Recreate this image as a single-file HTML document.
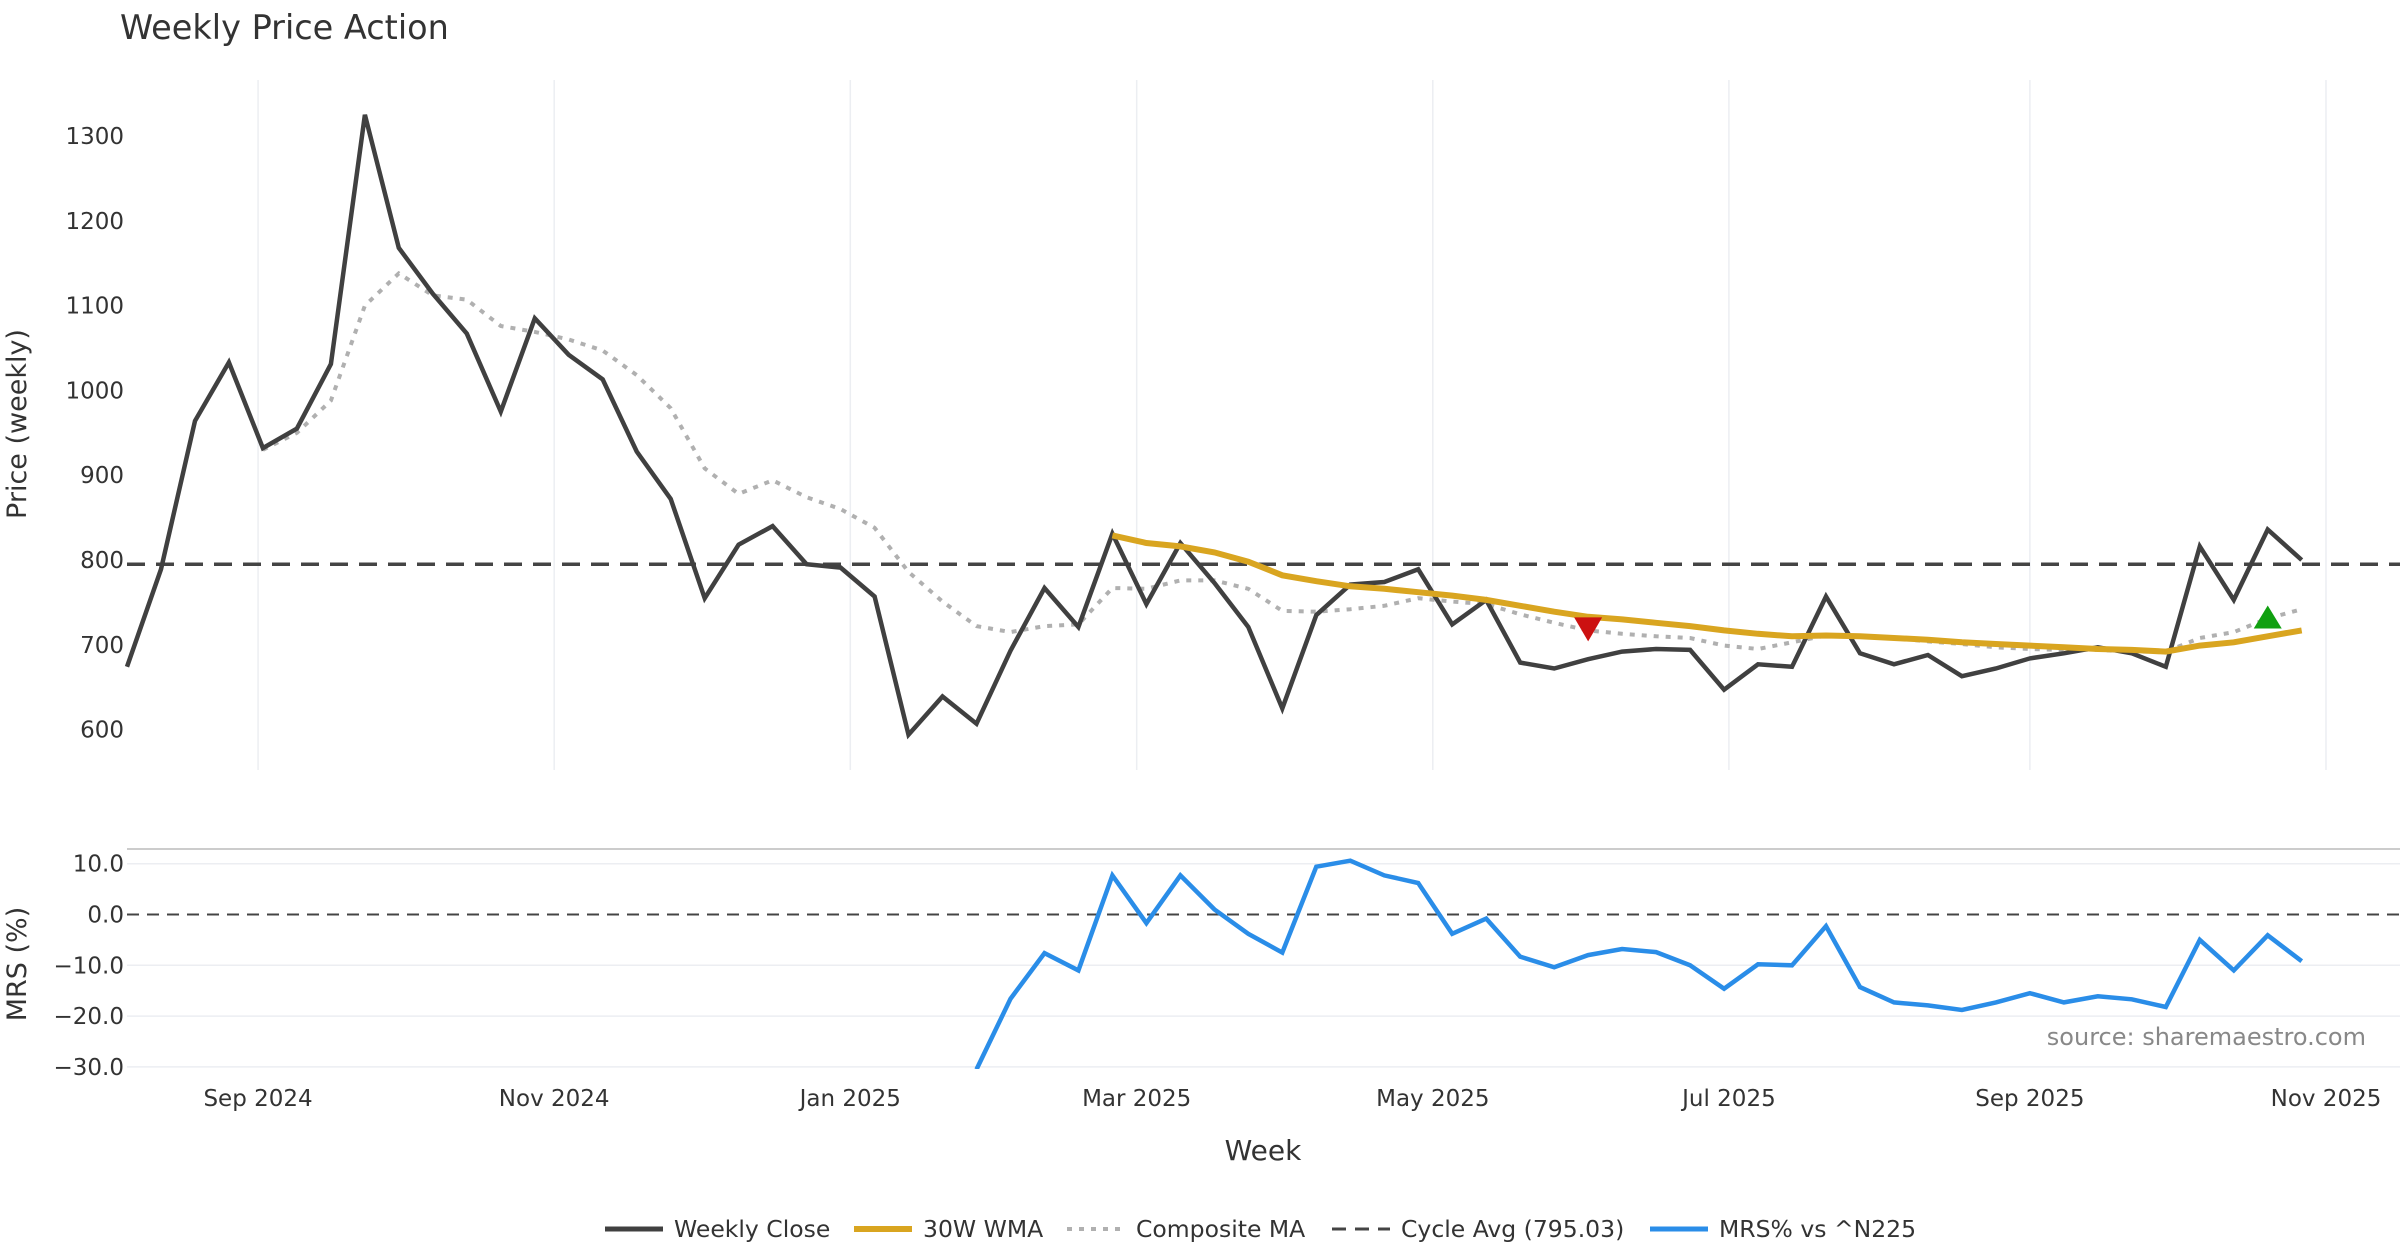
<!DOCTYPE html>
<html><head><meta charset="utf-8"><style>
html,body{margin:0;padding:0;background:#fff;}
svg{display:block;font-family:"DejaVu Sans","Liberation Sans",sans-serif;}
</style></head><body>
<svg id="chart" width="2400" height="1260" viewBox="0 0 2400 1260" xmlns="http://www.w3.org/2000/svg">
<defs><clipPath id="mrsClip"><rect x="127" y="849" width="2273" height="220"/></clipPath></defs>
<text x="120" y="39" font-size="33.5" fill="#333">Weekly Price Action</text>
<g id="grid"></g>
<g id="series"></g>
<g id="axes"></g>
<text transform="translate(26,424) rotate(-90)" text-anchor="middle" font-size="27" fill="#333">Price (weekly)</text>
<text transform="translate(26,964) rotate(-90)" text-anchor="middle" font-size="27" fill="#333">MRS (%)</text>
<text x="1263" y="1160" text-anchor="middle" font-size="28" fill="#333">Week</text>
<text x="2366" y="1045" text-anchor="end" font-size="24" fill="#888">source: sharemaestro.com</text>
<g id="legend"></g>
</svg>
<script>
const closes=[674,789,964,1033,932,955,1031,1325,1168,1114,1067,975,1085,1042,1013,928,872,755,818,840,795,791,757,594,639,607,693,767,721,831,748,820,773,721,625,735,771,774,789,724,753,679,672,683,692,695,694,647,677,674,757,690,677,688,663,672,684,690,697,690,674,816,753,836,800];
const wma=[null,null,null,null,null,null,null,null,null,null,null,null,null,null,null,null,null,null,null,null,null,null,null,null,null,null,null,null,null,829,820,816,809,798,782,775,769,766,762,758,753,746,739,733,730,726,722,717,713,710,711,710,708,706,703,701,699,697,695,694,692,699,703,710,717];
const composite=[null,null,null,null,930,950,988,1100,1138,1112,1107,1076,1069,1060,1047,1018,979,908,878,894,874,860,838,786,751,722,715,722,724,767,766,776,776,766,740,739,742,746,755,751,748,736,726,717,713,710,708,699,695,703,711,710,708,704,701,697,695,694,694,692,692,708,715,731,742];
const mrs=[null,null,null,null,null,null,null,null,null,null,null,null,null,null,null,null,null,null,null,null,null,null,null,null,null,-30.5,-16.6,-7.6,-11,7.7,-1.7,7.7,1,-3.8,-7.5,9.4,10.6,7.7,6.2,-3.8,-0.8,-8.3,-10.4,-8,-6.8,-7.4,-10,-14.6,-9.8,-10,-2.3,-14.3,-17.3,-17.9,-18.8,-17.3,-15.5,-17.3,-16.1,-16.7,-18.2,-5,-11,-4.1,-9.2];
const cycleAvg=795.03;
const priceTicks=[600,700,800,900,1000,1100,1200,1300];
const mrsTicks=[10,0,-10,-20,-30];
const mrsTickLabels=["10.0","0.0","\u221210.0","\u221220.0","\u221230.0"];
const monthLabels=["Sep 2024","Nov 2024","Jan 2025","Mar 2025","May 2025","Jul 2025","Sep 2025","Nov 2025"];
const monthDays=[27,88,149,208,269,330,392,453];
const sellSignals=[43];
const buySignals=[63];

const NS="http://www.w3.org/2000/svg";
const X0=127, STEP=33.98;
const xi=i=>X0+i*STEP;
const xd=d=>X0+d*STEP/7;
const yp=v=>136+(1300-v)*0.848;
const ym=m=>914.5-m*5.08;
function mk(tag,attrs,parent){const e=document.createElementNS(NS,tag);for(const k in attrs)e.setAttribute(k,attrs[k]);parent.appendChild(e);return e;}
const grid=document.getElementById('grid'),series=document.getElementById('series'),axes=document.getElementById('axes'),legend=document.getElementById('legend');

monthDays.forEach((d,k)=>{
  const g=mk('line',{x1:xd(d),x2:xd(d),y1:80,y2:770,stroke:'#eceef2','stroke-width':1.5},grid);
  
  
  const t=mk('text',{x:xd(d),y:1106,'text-anchor':'middle','font-size':23,fill:'#333'},axes);
  t.textContent=monthLabels[k];
  
  
});
priceTicks.forEach(v=>{
  const t=mk('text',{x:124,y:yp(v)+8,'text-anchor':'end','font-size':23,fill:'#333'},axes);
  t.textContent=v;
  
  
});
const border=mk('line',{x1:127,x2:2400,y1:849,y2:849,stroke:'#ccc','stroke-width':2},grid);


mrsTicks.forEach((m,k)=>{
  if(m!==0){const g=mk('line',{x1:127,x2:2400,y1:ym(m),y2:ym(m),stroke:'#eceef2','stroke-width':1.5},grid);
  
  }
  const t=mk('text',{x:124,y:ym(m)+8,'text-anchor':'end','font-size':23,fill:'#333'},axes);
  t.textContent=mrsTickLabels[k];
  
  
});
const z=mk('line',{x1:127,x2:2400,y1:ym(0),y2:ym(0),stroke:'#444','stroke-width':2,'stroke-dasharray':'12,8'},series);


const ca=mk('line',{x1:127,x2:2400,y1:yp(cycleAvg),y2:yp(cycleAvg),stroke:'#444','stroke-width':3.5,'stroke-dasharray':'18,11'},series);



function path(arr,yf){let d='';arr.forEach((v,i)=>{if(v==null)return;d+=(d?'L':'M')+xi(i).toFixed(1)+','+yf(v).toFixed(1);});return d;}
const cm=mk('path',{d:path(composite,yp),fill:'none',stroke:'#b0b0b0','stroke-width':4,'stroke-dasharray':'5,7'},series);


const cl=mk('path',{d:path(closes,yp),fill:'none',stroke:'#404040','stroke-width':4.5,'stroke-linejoin':'miter'},series);


const wm=mk('path',{d:path(wma,yp),fill:'none',stroke:'#d9a520','stroke-width':6},series);


const mr=mk('path',{d:path(mrs,ym),fill:'none',stroke:'#2a8de8','stroke-width':4.5,'clip-path':'url(#mrsClip)'},series);


sellSignals.forEach(i=>{
  const x=xi(i),y=yp(composite[i]);
  const p=mk('polygon',{points:`${x-14},${y-13} ${x+14},${y-13} ${x},${y+11}`,fill:'#cc1111'},series);
  
  
});
buySignals.forEach(i=>{
  const x=xi(i),y=yp(composite[i]);
  const p=mk('polygon',{points:`${x-14},${y+10} ${x+14},${y+10} ${x},${y-13}`,fill:'#11a011'},series);
  
  
});

const items=[
 {x:605,label:'Weekly Close',stroke:'#404040',w:5,dash:''},
 {x:854,label:'30W WMA',stroke:'#d9a520',w:6,dash:''},
 {x:1067,label:'Composite MA',stroke:'#b0b0b0',w:4,dash:'5,7'},
 {x:1332,label:'Cycle Avg (795.03)',stroke:'#444',w:3,dash:'14,9'},
 {x:1650,label:'MRS% vs ^N225',stroke:'#2a8de8',w:5,dash:''}];
items.forEach(it=>{
  const g=mk('g',{},legend);
  
  
  const l=mk('line',{x1:it.x,x2:it.x+58,y1:1229,y2:1229,stroke:it.stroke,'stroke-width':it.w},g);
  if(it.dash)l.setAttribute('stroke-dasharray',it.dash);
  
  
  const t=mk('text',{x:it.x+69,y:1237,'font-size':23.5,fill:'#333'},g);
  t.textContent=it.label;
  
  
});
</script>
</body></html>
